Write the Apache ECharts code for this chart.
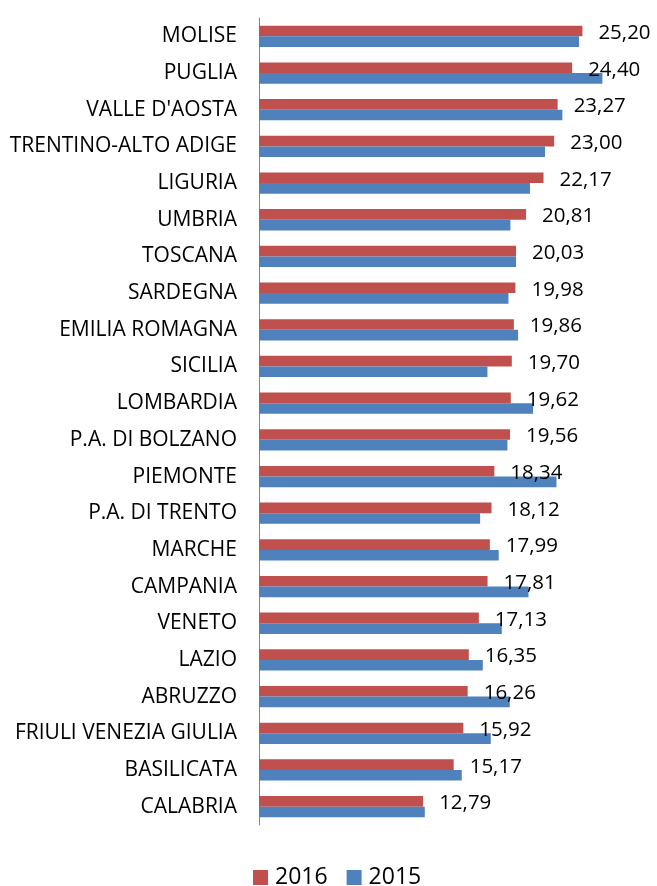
<!DOCTYPE html>
<html>
<head>
<meta charset="utf-8">
<script src="https://cdn.jsdelivr.net/npm/echarts@6/dist/echarts.min.js"></script>
<style>
  html, body { margin: 0; padding: 0; background: #fff; }
  #chart { width: 657px; height: 886px; }
</style>
</head>
<body>
<div id="chart"></div>
<script>
var regions = ['MOLISE', 'PUGLIA', "VALLE D'AOSTA", 'TRENTINO-ALTO ADIGE', 'LIGURIA', 'UMBRIA',
  'TOSCANA', 'SARDEGNA', 'EMILIA ROMAGNA', 'SICILIA', 'LOMBARDIA', 'P.A. DI BOLZANO',
  'PIEMONTE', 'P.A. DI TRENTO', 'MARCHE', 'CAMPANIA', 'VENETO', 'LAZIO', 'ABRUZZO',
  'FRIULI VENEZIA GIULIA', 'BASILICATA', 'CALABRIA']
var values2016 = [25.20, 24.40, 23.27, 23.00, 22.17, 20.81, 20.03, 19.98, 19.86, 19.70, 19.62,
  19.56, 18.34, 18.12, 17.99, 17.81, 17.13, 16.35, 16.26, 15.92, 15.17, 12.79]
// 2015 has no labels in the source
var values2015 = [24.94, 26.76, 23.64, 22.29, 21.12, 19.59, 20.03, 19.44, 20.19, 17.80, 21.36,
  19.36, 23.18, 17.23, 18.68, 21.00, 18.92, 17.44, 19.54, 18.06, 15.80, 12.92]

var chart = echarts.init(document.getElementById('chart'))

chart.setOption({
  animation: false,
  textStyle: {
    fontFamily: 'Open Sans'
  },
  grid: {
    left: 259,
    right: 13,
    top: 18,
    bottom: 61
  },
  legend: {
    data: ['2016', '2015'],
    top: 866,
    left: 253,
    padding: 0,
    icon: 'rect',
    itemWidth: 15,
    itemHeight: 15,
    itemGap: 19,
    textStyle: {
      fontSize: 23,
      color: '#000',
      padding: [0, 0, 0, 2]
    }
  },
  xAxis: {
    type: 'value',
    min: 0,
    max: 30,
    show: false
  },
  yAxis: {
    type: 'category',
    inverse: true,
    data: regions,
    axisLine: {
      lineStyle: { color: '#868686' }
    },
    axisTick: {
      length: 7,
      lineStyle: { color: '#868686' }
    },
    axisLabel: {
      margin: 22,
      fontSize: 21,
      color: '#000'
    }
  },
  series: [{
    name: '2016',
    type: 'bar',
    data: values2016,
    barGap: '0%',
    barCategoryGap: '42%',
    itemStyle: { color: '#C0504D' },
    label: {
      show: true,
      position: 'right',
      distance: 16,
      fontSize: 20.5,
      color: '#000',
      offset: [0, 2],
      formatter: function (p) {
        return p.value.toFixed(2).replace('.', ',')
      }
    }
  }, {
    name: '2015',
    type: 'bar',
    data: values2015,
    barGap: '0%',
    barCategoryGap: '42%',
    itemStyle: { color: '#4F81BD' }
  }]
})
</script>
</body>
</html>
